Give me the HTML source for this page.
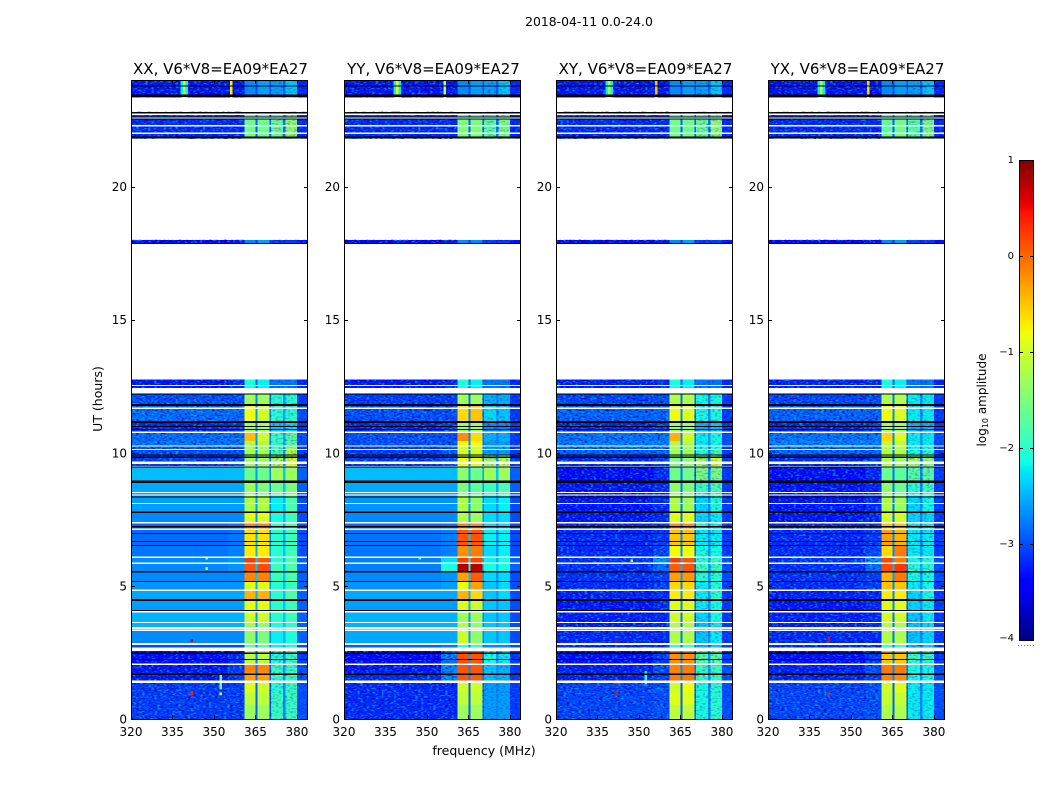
<!DOCTYPE html>
<html lang="en">
<head>
<meta charset="utf-8">
<title>2018-04-11 dynamic spectra</title>
<style>
html,body{margin:0;padding:0;background:#fff;width:1050px;height:800px;overflow:hidden}
svg{display:block}
text{font-family:"DejaVu Sans","Liberation Sans",sans-serif;fill:#000}
</style>
</head>
<body>
<svg id="figure" xmlns="http://www.w3.org/2000/svg" width="1050" height="800" viewBox="0 0 1050 800">
  <defs>
    <filter id="speckle" x="0" y="0" width="100%" height="100%" color-interpolation-filters="sRGB">
      <feTurbulence type="fractalNoise" baseFrequency="0.33 0.6" numOctaves="1" seed="4" result="n"/>
      <feColorMatrix in="n" type="matrix" values="0 0 0 0 0  0 0 0 0 0.72  0 0 0 0 1  4.2 0 0 0 -2.05" result="bright"/>
      <feColorMatrix in="n" type="matrix" values="0 0 0 0 0  0 0 0 0 0  0 0 0 0 0.62  0 -4.2 0 0 2.1" result="dark"/>
      <feMerge><feMergeNode in="bright"/><feMergeNode in="dark"/></feMerge>
    </filter>
  </defs>
  <text x="589" y="26" font-size="12.4" text-anchor="middle">2018-04-11 0.0-24.0</text>
  <text x="484" y="755" font-size="12.5" text-anchor="middle">frequency (MHz)</text>
  <text transform="translate(102,399) rotate(-90)" font-size="12.5" text-anchor="middle">UT (hours)</text>
  <text transform="translate(986,400) rotate(-90)" font-size="12" text-anchor="middle">log<tspan dy="2" font-size="8">10</tspan><tspan dy="-2"> amplitude</tspan></text>
  <g id="panels"></g>
  <g id="colorbar"></g>
</svg>
<script>
// Column edges in MHz: broad background, near-band, band A, notch, band B, notch, band C, notch, band D, upper edge
const frequencyEdges = [320,355,361,365,365.7,370,370.7,375,375.8,380,384];
const xTicks = [320,335,350,365,380];
const yTicks = [0,5,10,15,20];
const colorbarTicks = [1,0,-1,-2,-3,-4];
const panelTitles = ["XX, V6*V8=EA09*EA27","YY, V6*V8=EA09*EA27","XY, V6*V8=EA09*EA27","YX, V6*V8=EA09*EA27"];

// Time bands (UT hours) that hold data
const rowHours = [[0,.55],[.55,1],[1,1.4],[1.4,1.75],[1.75,2.05],[2.05,2.55],[2.55,2.85],[2.85,3.3],[3.3,3.65],[3.65,4.05],[4.05,4.5],[4.5,4.85],[4.85,5.15],[5.15,5.55],[5.55,5.85],[5.85,6.1],[6.1,6.5],[6.5,7.1],[7.1,7.4],[7.4,7.8],[7.8,8.4],[8.4,8.9],[8.9,9.5],[9.5,9.9],[9.9,10.2],[10.2,10.45],[10.45,10.8],[10.8,11.2],[11.2,11.75],[11.75,12.2],[12.2,12.75],[17.85,18],[21.8,22.53],[22.53,22.8],[23.35,24]];

// log10 amplitude per time band, one value per frequency column
const xxRows = [
[-3.1,-3.1,-1.3,-2.9,-1.3,-3,-1.9,-2.7,-1.9,-3],
[-3.1,-3.1,-1.1,-2.9,-1.1,-3,-1.9,-2.7,-1.9,-3],
[-3.1,-3.1,-0.9,-2.9,-1,-3,-2,-2.7,-1.9,-3],
[-3.3,-3.1,-0.3,-2.8,-0.3,-2.9,-1.9,-2.6,-1.9,-3],
[-3.3,-3.1,-0.15,-2.8,-0.15,-2.9,-1.9,-2.6,-1.9,-3],
[-3.35,-3.2,-1.1,-2.8,-1.1,-3,-2,-2.7,-1.9,-3.1],
[-3,-3,-1.7,-2.7,-1.7,-2.7,-2.2,-2.5,-2.1,-3],
[-2.7,-2.7,-1.4,-2.7,-1.5,-2.7,-2.2,-2.5,-2.1,-2.9],
[-2.5,-2.5,-1.3,-2.6,-1.4,-2.7,-2.1,-2.4,-2,-2.9],
[-2.5,-2.5,-1,-2.6,-1,-2.6,-2,-2.4,-1.9,-2.9],
[-2.6,-2.6,-0.85,-2.5,-0.85,-2.6,-2,-2.4,-1.9,-2.9],
[-2.55,-2.55,-0.4,-2.5,-0.4,-2.6,-2,-2.4,-1.8,-2.9],
[-2.65,-2.65,-0.9,-2.5,-0.9,-2.6,-2,-2.4,-1.9,-2.9],
[-2.7,-2.7,-0.15,-2.4,-0.15,-2.6,-1.9,-2.4,-1.8,-2.9],
[-2.7,-2.65,0.1,-2.4,0.15,-2.6,-1.9,-2.4,-1.8,-2.9],
[-2.7,-2.65,0.25,-2.4,0.1,-2.6,-2,-2.4,-1.8,-2.9],
[-2.8,-2.75,-0.7,-2.5,-0.7,-2.6,-2,-2.4,-1.9,-3],
[-2.85,-2.8,-0.65,-2.5,-0.65,-2.7,-2,-2.5,-1.9,-3],
[-2.85,-2.8,-0.15,-2.5,-0.15,-2.7,-2,-2.5,-1.9,-3],
[-2.7,-2.7,-0.9,-2.6,-0.9,-2.7,-2.1,-2.5,-1.9,-3],
[-2.6,-2.6,-1.2,-2.6,-1.2,-2.7,-2.2,-2.5,-1.8,-3],
[-2.55,-2.55,-1.3,-2.6,-1.5,-2.7,-1.6,-2.4,-1.5,-2.9],
[-2.45,-2.45,-1.6,-2.6,-1.6,-2.7,-1.3,-2.4,-1.3,-2.9],
[-3.1,-3,-1.3,-2.7,-1.3,-2.8,-1.2,-2.6,-0.9,-3.1],
[-3,-3,-1.3,-2.7,-1.3,-2.8,-1.8,-2.6,-1.2,-3.1],
[-2.8,-2.8,-1.2,-2.7,-1.2,-2.7,-1.9,-2.5,-1.7,-3],
[-2.85,-2.85,-0.45,-2.6,-1,-2.7,-1.9,-2.5,-1.7,-3],
[-3.2,-3.1,-1.3,-2.8,-1.3,-2.9,-2.4,-2.7,-2.3,-3.1],
[-2.85,-2.85,-0.8,-2.6,-1,-2.7,-2,-2.5,-2,-3],
[-3,-3,-1.3,-2.7,-1.3,-2.8,-2,-2.6,-2,-3.1],
[-3.3,-3.2,-2.1,-2.9,-2.2,-3,-2.8,-2.8,-2.8,-3.2],
[-3.4,-3.3,-2.7,-3.1,-2.6,-3.2,-3.1,-3.2,-3.1,-3.3],
[-3.2,-3.2,-1.6,-2.9,-1.6,-2.9,-1.6,-2.8,-1.4,-3.2],
[-3.1,-3.1,-1.9,-2.8,-1.9,-2.9,-1.9,-2.8,-1.8,-3.2],
[-3.3,-3.3,-2.7,-3,-2.6,-3,-2.6,-2.9,-2.4,-3.2]
];
const yyRows = [
[-3.2,-3.2,-1.3,-2.9,-1.3,-2.9,-2.6,-2.7,-2.6,-3.1],
[-3.2,-3.2,-1.1,-2.9,-1.1,-2.9,-2.6,-2.7,-2.6,-3.1],
[-3.2,-3.2,-1,-2.9,-1,-2.9,-2.6,-2.7,-2.6,-3.1],
[-3.2,-2.7,0.1,-2.7,0.05,-2.8,-2.4,-2.6,-2.5,-3.1],
[-3.3,-2.7,0.1,-2.7,0.1,-2.8,-2.4,-2.6,-2.5,-3.1],
[-3.4,-2.8,0.15,-2.6,0.1,-2.8,-2.1,-2.6,-2.2,-3.1],
[-2.9,-2.8,-1.9,-2.7,-1.9,-2.8,-2.7,-2.7,-2.7,-3],
[-2.55,-2.55,-1,-2.6,-1.4,-2.7,-2.4,-2.6,-2.4,-3],
[-2.5,-2.5,-1.2,-2.6,-1.4,-2.7,-2.4,-2.6,-2.4,-3],
[-2.5,-2.5,-1.3,-2.6,-1.3,-2.7,-2.4,-2.6,-2.4,-3],
[-2.6,-2.6,-0.9,-2.5,-1,-2.6,-2.4,-2.6,-2.4,-3],
[-2.55,-2.55,-0.4,-2.5,-0.6,-2.6,-2.4,-2.6,-2.3,-3],
[-2.65,-2.6,-0.8,-2.4,-0.3,-2.6,-2.4,-2.6,-2.3,-3],
[-2.7,-2.65,-0.3,-2.4,0.05,-2.6,-2.3,-2.6,-2.3,-3],
[-2.75,-2.1,0.8,-2.1,0.75,-2.4,-2.1,-2.4,-2.1,-2.9],
[-2.75,-2.3,0.25,-2.2,0.2,-2.5,-2.2,-2.5,-2.1,-2.9],
[-2.8,-2.75,-0.2,-2.4,-0.1,-2.6,-2.3,-2.6,-2.2,-3],
[-2.8,-2.75,0.1,-2.4,0.1,-2.6,-2.2,-2.6,-2.2,-3],
[-2.85,-2.8,-0.15,-2.5,-0.2,-2.7,-2.3,-2.6,-2.3,-3],
[-2.7,-2.7,-1.2,-2.6,-1.3,-2.7,-2.3,-2.6,-2.3,-3],
[-2.65,-2.65,-1.2,-2.6,-1.4,-2.7,-2.3,-2.6,-2.2,-3],
[-2.55,-2.55,-1.5,-2.6,-1.7,-2.6,-1.9,-2.5,-1.8,-2.9],
[-2.45,-2.45,-1.4,-2.6,-1.6,-2.6,-1.3,-2.4,-1.3,-2.9],
[-3.1,-3,-0.8,-2.7,-0.9,-2.8,-1.3,-2.6,-1.1,-3.1],
[-3.1,-3,-1,-2.7,-1,-2.8,-2.6,-2.7,-2.6,-3.1],
[-3,-3,-0.8,-2.7,-0.8,-2.8,-2.6,-2.7,-2.6,-3.1],
[-3,-3,-0.2,-2.7,-0.6,-2.8,-2.5,-2.7,-2.5,-3.1],
[-3.2,-3.1,-1.3,-2.8,-1.3,-2.9,-2.7,-2.8,-2.7,-3.1],
[-3,-3,-0.6,-2.7,-0.5,-2.8,-2.3,-2.6,-2.4,-3.1],
[-3.1,-3.1,-1.3,-2.8,-1.3,-2.9,-2.5,-2.7,-2.5,-3.1],
[-3.3,-3.2,-2.1,-2.9,-2.2,-3,-2.8,-2.8,-2.8,-3.2],
[-3.4,-3.3,-2.7,-3.1,-2.7,-3.2,-3.1,-3.2,-3.1,-3.3],
[-3.2,-3.2,-1.5,-2.9,-1.5,-2.9,-1.7,-2.8,-1.5,-3.2],
[-3.1,-3.1,-1.9,-2.8,-1.9,-2.9,-2,-2.8,-1.9,-3.2],
[-3.3,-3.3,-2.7,-3,-2.6,-3,-2.6,-2.9,-2.4,-3.2]
];
const xyRows = [
[-3.05,-3,-1.1,-2.9,-1.1,-2.9,-2.1,-2.7,-2,-3],
[-3.05,-3,-0.9,-2.9,-0.9,-2.9,-2.1,-2.7,-2,-3],
[-3.05,-3,-1,-2.9,-0.8,-2.9,-2.1,-2.7,-2,-3],
[-3.25,-3.1,-0.1,-2.7,-0.1,-2.8,-1.9,-2.6,-1.9,-3],
[-3.25,-3,-0.15,-2.7,-0.1,-2.8,-1.9,-2.6,-1.9,-3],
[-3.35,-3.1,-0.2,-2.7,-0.2,-2.9,-1.7,-2.6,-1.7,-3.1],
[-3.2,-3.2,-1.9,-2.8,-1.9,-2.9,-2.5,-2.8,-2.4,-3.1],
[-3.2,-3.2,-1.2,-2.8,-1.2,-3,-2.4,-2.7,-2.2,-3.1],
[-3.25,-3.2,-1.2,-2.8,-1.2,-3,-2.4,-2.7,-2.2,-3.1],
[-3.25,-3.2,-1,-2.8,-1,-3,-2.3,-2.7,-2.1,-3.1],
[-3.3,-3.2,-0.9,-2.7,-0.9,-2.9,-2.2,-2.6,-2.1,-3.1],
[-3.25,-3.2,-0.7,-2.7,-0.7,-2.9,-2.2,-2.6,-2,-3.1],
[-3.2,-3.1,-0.6,-2.7,-0.6,-2.9,-2.2,-2.6,-2,-3.1],
[-3.15,-3.1,-0.3,-2.6,-0.25,-2.8,-2,-2.6,-2,-3],
[-3.15,-2.85,0.05,-2.5,0.1,-2.8,-1.9,-2.5,-1.9,-3],
[-3.15,-2.65,0.25,-2.5,0.1,-2.8,-2,-2.5,-1.9,-3],
[-3.2,-3.05,-0.8,-2.7,-0.8,-2.8,-2.1,-2.6,-2.1,-3.1],
[-3.2,-3.1,-0.5,-2.7,-0.5,-2.9,-2.2,-2.6,-2.2,-3.1],
[-3.2,-3.1,-0.2,-2.7,-0.2,-2.9,-2.1,-2.7,-2.2,-3.1],
[-3.3,-3.2,-0.9,-2.8,-0.9,-2.9,-2.3,-2.7,-2.2,-3.1],
[-3.3,-3.2,-1.2,-2.8,-1.3,-3,-2.3,-2.7,-2,-3.1],
[-3.3,-3.2,-1.4,-2.8,-1.5,-3,-1.9,-2.7,-1.8,-3.1],
[-3.35,-3.2,-1.6,-2.8,-1.6,-3,-1.5,-2.7,-1.5,-3.1],
[-3.2,-3.1,-1.5,-2.8,-1.4,-3,-1.3,-2.8,-1,-3.1],
[-2.9,-2.9,-1.3,-2.8,-1.3,-2.9,-2,-2.7,-1.9,-3.1],
[-2.75,-2.75,-1.2,-2.7,-1.2,-2.8,-2.2,-2.6,-2.1,-3],
[-2.8,-2.8,-0.4,-2.7,-1,-2.8,-2.2,-2.6,-2.1,-3],
[-3.2,-3.1,-1.3,-2.8,-1.3,-2.9,-2.5,-2.8,-2.4,-3.1],
[-2.9,-2.9,-0.8,-2.7,-0.9,-2.8,-2.1,-2.7,-2.1,-3.1],
[-3.05,-3,-1.2,-2.8,-1.2,-2.9,-2.1,-2.7,-2.1,-3.1],
[-3.25,-3.2,-2.1,-2.9,-2.2,-3,-2.8,-2.9,-2.8,-3.2],
[-3.4,-3.3,-2.7,-3.1,-2.6,-3.2,-3.1,-3.2,-3.1,-3.3],
[-3.2,-3.2,-1.6,-2.9,-1.6,-2.9,-1.6,-2.8,-1.4,-3.2],
[-3.1,-3.1,-1.9,-2.8,-1.9,-2.9,-1.9,-2.8,-1.8,-3.2],
[-3.3,-3.3,-2.7,-3,-2.6,-3,-2.6,-2.9,-2.4,-3.2]
];
const yxRows = [
[-3.05,-3,-1.2,-2.9,-1.2,-2.9,-2.2,-2.7,-2.2,-3],
[-3.05,-3,-1.05,-2.9,-1.05,-2.9,-2.2,-2.7,-2.2,-3],
[-3.05,-3,-1,-2.9,-0.9,-2.9,-2.2,-2.7,-2.2,-3],
[-3.25,-3.1,-0.15,-2.7,-0.2,-2.8,-2.1,-2.6,-2.1,-3],
[-3.25,-3,-0.1,-2.7,-0.1,-2.8,-2.1,-2.6,-2.1,-3],
[-3.35,-3.1,-0.5,-2.7,-0.5,-2.9,-1.9,-2.6,-1.9,-3.1],
[-3.2,-3.2,-1.9,-2.8,-1.9,-2.9,-2.5,-2.8,-2.4,-3.1],
[-3.2,-3.2,-1.2,-2.8,-1.2,-3,-2.4,-2.7,-2.3,-3.1],
[-3.25,-3.2,-1.2,-2.8,-1.2,-3,-2.4,-2.7,-2.3,-3.1],
[-3.25,-3.2,-1,-2.8,-1,-3,-2.4,-2.7,-2.2,-3.1],
[-3.3,-3.2,-0.9,-2.7,-0.9,-2.9,-2.3,-2.6,-2.2,-3.1],
[-3.25,-3.2,-0.7,-2.7,-0.7,-2.9,-2.3,-2.6,-2.1,-3.1],
[-3.2,-3.1,-0.5,-2.7,-0.5,-2.9,-2.2,-2.6,-2.1,-3.1],
[-3.15,-3.1,-0.4,-2.6,-0.1,-2.8,-2.1,-2.6,-2.1,-3],
[-3.15,-2.85,0.15,-2.5,0.25,-2.8,-2,-2.5,-2,-3],
[-3.15,-2.65,0.2,-2.5,-0.1,-2.8,-2.1,-2.5,-2,-3],
[-3.2,-3.05,-0.6,-2.7,-0.1,-2.8,-2.2,-2.6,-2.2,-3.1],
[-3.2,-3.1,-0.3,-2.7,-0.4,-2.9,-2.2,-2.6,-2.2,-3.1],
[-3.2,-3.1,-0.5,-2.7,-0.5,-2.9,-2.2,-2.7,-2.2,-3.1],
[-3.3,-3.2,-1,-2.8,-1,-2.9,-2.3,-2.7,-2.3,-3.1],
[-3.3,-3.2,-1.2,-2.8,-1.3,-3,-2.3,-2.7,-2.1,-3.1],
[-3.3,-3.2,-1.4,-2.8,-1.6,-3,-2,-2.7,-1.9,-3.1],
[-3.35,-3.2,-1.6,-2.8,-1.7,-3,-1.7,-2.7,-1.7,-3.1],
[-3.2,-3.1,-1.2,-2.8,-1.3,-3,-1.3,-2.8,-1.4,-3.1],
[-2.9,-2.9,-1.2,-2.8,-1.2,-2.9,-2.1,-2.7,-2,-3.1],
[-2.75,-2.75,-1.1,-2.7,-1.1,-2.8,-2.2,-2.6,-2.2,-3],
[-2.8,-2.8,-0.6,-2.7,-0.9,-2.8,-2.2,-2.6,-2.2,-3],
[-3.2,-3.1,-1.3,-2.8,-1.3,-2.9,-2.5,-2.8,-2.5,-3.1],
[-2.9,-2.9,-0.8,-2.7,-0.9,-2.8,-2.2,-2.7,-2.2,-3.1],
[-3.05,-3,-1.2,-2.8,-1.2,-2.9,-2.2,-2.7,-2.2,-3.1],
[-3.25,-3.2,-2.1,-2.9,-2.2,-3,-2.8,-2.9,-2.8,-3.2],
[-3.4,-3.3,-2.7,-3.1,-2.6,-3.2,-3.1,-3.2,-3.1,-3.3],
[-3.2,-3.2,-1.7,-2.9,-1.6,-2.9,-1.7,-2.8,-1.5,-3.2],
[-3.1,-3.1,-1.9,-2.8,-1.9,-2.9,-2,-2.8,-1.9,-3.2],
[-3.3,-3.3,-2.7,-3,-2.6,-3,-2.6,-2.9,-2.4,-3.2]
];

// Narrow interference features: frequency MHz, start hour, end hour, log10 amplitude
const xxSpikes = [[337.9,23.35,24,-2.2],[339.7,23.35,24,-2.2],[338.8,23.35,24,-1.1],[355.8,23.35,24,-0.7],[341.5,0.9,1.05,0.4],[341.5,2.9,3,0.6],[352,0.9,1,-0.9],[352,1.1,1.7,-1.7],[347,6,6.1,-1.2],[347,5.6,5.7,-1.4]];
const yySpikes = [[337.9,23.35,24,-2.2],[339.7,23.35,24,-2.2],[338.8,23.35,24,-0.8],[356,23.35,24,-1.1],[347,6,6.1,-1.6]];
const xySpikes = [[337.9,23.35,24,-2.2],[339.7,23.35,24,-2.2],[338.8,23.35,24,-1.3],[355.8,23.35,24,-0.5],[341.5,0.9,1.05,0.5],[341.5,2.9,3,0.6],[341.5,1.3,1.5,0.4],[352,1.3,1.8,-2],[347,5.9,6,-1.2]];
const yxSpikes = [[337.9,23.35,24,-2.2],[339.7,23.35,24,-2.2],[338.8,23.35,24,-1.2],[355.8,23.35,24,-0.6],[341.5,2.9,3.1,0.5],[341.5,0.9,1,0.4]];

// Flagged integrations shown white (no data) and black (zero amplitude), in UT hours
const whiteGapHours = [[22.74,22.68],[22.59,22.53],[22.31,22.26],[22.03,21.97],[12.54,12.5],[12.43,12.23],[11.7,11.64],[10.79,10.74],[10.27,10.23],[10.15,10.1],[9.67,9.58],[9.51,9.48],[8.53,8.48],[8.43,8.39],[8.12,8.08],[7.4,7.35],[7.15,7.1],[6.1,6.05],[5.87,5.82],[4.86,4.81],[4.06,4],[3.65,3.61],[3.46,3.36],[3.35,3.31],[2.85,2.78],[2.69,2.55],[2.08,2.03],[1.44,1.35]];
const blackFlagHours = [[23.8,23.77],[23.45,23.36],[22.8,22.75],[22.63,22.6],[22.55,22.51],[21.88,21.8],[17.88,17.84],[12.23,12.18],[11.83,11.76],[11.19,11.12],[11,10.96],[10.9,10.85],[9.94,9.9],[9.85,9.8],[9.48,9.44],[8.96,8.86],[8.36,8.31],[7.79,7.74],[7.25,7.2],[6.99,6.95],[6.69,6.65],[6.54,6.5],[5.56,5.51],[5.18,5.14],[4.51,4.43],[4.09,4.06],[2.49,2.44],[2.26,2.22],[1.7,1.65]];

// Hours in which the background is visibly grainy
const xxNoisyHours = [[0,2.55],[9.5,12.75],[17.85,18],[21.8,22.8],[23.35,24]];
const yyNoisyHours = [[0,2.55],[9.5,12.75],[17.85,18],[21.8,22.8],[23.35,24]];
const xyNoisyHours = [[0,12.75],[17.85,18],[21.8,22.8],[23.35,24]];
const yxNoisyHours = [[0,12.75],[17.85,18],[21.8,22.8],[23.35,24]];
const noisyFrequencies = [[320,360.5],[370,384]];
const grainOpacity = [0.72,0.32];

const panelData = [
  {rows:xxRows,spikes:xxSpikes,noisy:xxNoisyHours},
  {rows:yyRows,spikes:yySpikes,noisy:yyNoisyHours},
  {rows:xyRows,spikes:xySpikes,noisy:xyNoisyHours},
  {rows:yxRows,spikes:yxSpikes,noisy:yxNoisyHours}
];
const panelLeft = [131,344,556,768];
const panelWidth = 177, plotTop = 80, plotBottom = 719;
const NS = 'http://www.w3.org/2000/svg';

const jetRed = [[0,0],[.35,0],[.66,1],[.89,1],[1,.5]];
const jetGreen = [[0,0],[.125,0],[.375,1],[.64,1],[.91,0],[1,0]];
const jetBlue = [[0,.5],[.11,1],[.34,1],[.65,0],[1,0]];
function lerpStops(stops,t){
  for(let i=1;i<stops.length;i++){
    if(t<=stops[i][0]){
      const a = stops[i-1], b = stops[i];
      return a[1]+(b[1]-a[1])*(t-a[0])/(b[0]-a[0]);
    }
  }
  return stops[stops.length-1][1];
}
function jet(v){
  const t = Math.min(1,Math.max(0,(v+4)/5));
  return 'rgb('+Math.round(255*lerpStops(jetRed,t))+','+Math.round(255*lerpStops(jetGreen,t))+','+Math.round(255*lerpStops(jetBlue,t))+')';
}
function yOf(h){ return plotBottom-(h/24)*(plotBottom-plotTop); }
function xOf(left,f){ return left+((f-320)/64)*panelWidth; }
function make(tag,parent,attrs){
  const el = document.createElementNS(NS,tag);
  for(const k in attrs) el.setAttribute(k,attrs[k]);
  parent.appendChild(el);
  return el;
}

const panelsRoot = document.getElementById('panels');
panelData.forEach((d,pi)=>{
  const left = panelLeft[pi];
  const g = make('g',panelsRoot,{});
  
  

  rowHours.forEach((hr,ri)=>{
    d.rows[ri].forEach((v,ci)=>{
      const x0 = xOf(left,frequencyEdges[ci]), x1 = xOf(left,frequencyEdges[ci+1]);
      const y0 = yOf(hr[1]), y1 = yOf(hr[0]);
      const cell = make('rect',g,{x:x0,y:y0,width:x1-x0,height:y1-y0,fill:jet(v),'shape-rendering':'crispEdges'});
      
      
    });
  });

  d.noisy.forEach(hr=>{
    noisyFrequencies.forEach((fr,fi)=>{
      const x0 = xOf(left,fr[0]), x1 = xOf(left,fr[1]);
      const y0 = yOf(hr[1]), y1 = yOf(hr[0]);
      const n = make('rect',g,{x:x0,y:y0,width:x1-x0,height:y1-y0,fill:'#000',filter:'url(#speckle)',opacity:grainOpacity[fi]});
      
      
    });
  });

  d.spikes.forEach(s=>{
    const x0 = xOf(left,s[0]);
    const sp = make('rect',g,{x:x0,y:yOf(s[2]),width:2.4,height:yOf(s[1])-yOf(s[2]),fill:jet(s[3]),'shape-rendering':'crispEdges'});
    
    
  });

  whiteGapHours.forEach(h=>{
    const w = make('rect',g,{x:left,y:yOf(h[0]),width:panelWidth,height:Math.max(1,yOf(h[1])-yOf(h[0])),fill:'#fff','shape-rendering':'crispEdges'});
    
    
  });
  blackFlagHours.forEach(h=>{
    const b = make('rect',g,{x:left,y:yOf(h[0]),width:panelWidth,height:Math.max(1,yOf(h[1])-yOf(h[0])),fill:'#000','shape-rendering':'crispEdges'});
    
    
  });

  const frame = make('rect',g,{x:left+0.5,y:plotTop+0.5,width:panelWidth-1,height:plotBottom-plotTop,fill:'none',stroke:'#000','stroke-width':1});
  
  

  const title = make('text',g,{x:left+panelWidth/2+1,y:74,'font-size':15,'text-anchor':'middle'});
  title.textContent = panelTitles[pi];
  
  

  xTicks.forEach(t=>{
    const x = Math.round(xOf(left,t))+0.5;
    [[plotBottom,plotBottom-4],[plotTop,plotTop+4]].forEach(p=>{
      const tk = make('line',g,{x1:x,x2:x,y1:p[0],y2:p[1],stroke:'#000','stroke-width':1});
      
      
    });
    const lb = make('text',g,{x:xOf(left,t),y:736,'font-size':12,'text-anchor':'middle'});
    lb.textContent = t;
    
    
  });
  yTicks.forEach(t=>{
    const y = Math.round(yOf(t))+0.5;
    [[left,left+4],[left+panelWidth,left+panelWidth-4]].forEach(p=>{
      const tk = make('line',g,{x1:p[0],x2:p[1],y1:y,y2:y,stroke:'#000','stroke-width':1});
      
      
    });
    const lb = make('text',g,{x:left-4,y:yOf(t)+4.5,'font-size':12,'text-anchor':'end'});
    lb.textContent = t;
    
    
  });
});

// Colorbar
const cb = document.getElementById('colorbar');
const cbLeft = 1019, cbWidth = 15, cbTop = 160, cbBottom = 640;
function cbY(v){ return cbBottom-((v+4)/5)*(cbBottom-cbTop); }
for(let i=0;i<256;i++){
  const v0 = -4+5*i/256, v1 = -4+5*(i+1)/256;
  const s = make('rect',cb,{x:cbLeft,y:cbY(v1),width:cbWidth,height:cbY(v0)-cbY(v1)+0.5,fill:jet((v0+v1)/2),'shape-rendering':'crispEdges'});
  
  
}
const cbFrame = make('rect',cb,{x:cbLeft+0.5,y:cbTop+0.5,width:cbWidth-1,height:cbBottom-cbTop,fill:'none',stroke:'#000','stroke-width':1});


colorbarTicks.forEach(t=>{
  const y = Math.round(cbY(t))+0.5;
  [[cbLeft,cbLeft+4],[cbLeft+cbWidth,cbLeft+cbWidth-4]].forEach(p=>{
    const tk = make('line',cb,{x1:p[0],x2:p[1],y1:y,y2:y,stroke:'#000','stroke-width':1});
    
    
  });
  const lb = make('text',cb,{x:1014,y:cbY(t)+(t===1?3:t===-4?1:3),'font-size':10,'text-anchor':'end'});
  lb.textContent = t<0 ? '\u2212'+Math.abs(t) : String(t);
  
  
});
const cbDots = make('line',cb,{x1:1018,x2:1034,y1:645.5,y2:645.5,stroke:'#777','stroke-width':1,'stroke-dasharray':'1 2'});


</script>
</body>
</html>
